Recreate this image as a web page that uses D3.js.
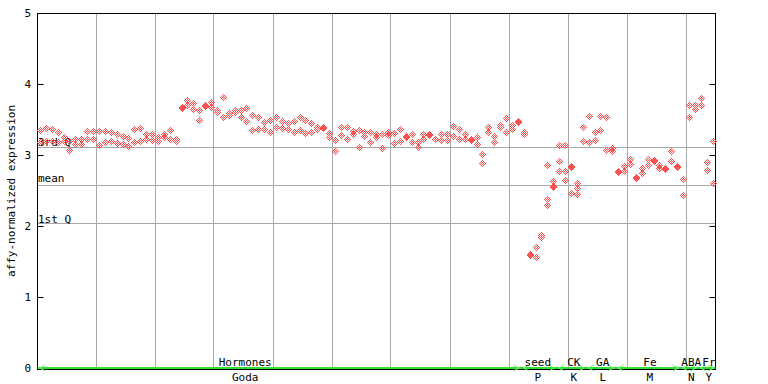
<!DOCTYPE html>
<html>
<head>
<meta charset="utf-8">
<script src="https://cdn.jsdelivr.net/npm/d3@7/dist/d3.min.js"></script>
<style>
    body { margin: 0; background: #fff; }
    text { font-family: "DejaVu Sans Mono", "Liberation Mono", monospace; font-size: 11px; fill: #000; }
</style>
</head>
<body>
<svg width="768" height="384"></svg>
<script>
'use strict';

// replicate values per sample
const sampleValues = [
    [3.35, 3.18], [3.38, 3.2], [3.37, 3.2], [3.33, 3.18], [3.25, 3.2], [3.2, 3.07], [3.22, 3.16], [3.22, 3.16], [3.34, 3.22], [3.34, 3.22],
    [3.34, 3.14], [3.34, 3.18], [3.33, 3.2], [3.3, 3.17], [3.27, 3.16], [3.24, 3.13], [3.37, 3.18], [3.38, 3.2], [3.29, 3.22], [3.29, 3.21],
    [3.26, 3.2], [3.29, 3.26], [3.35, 3.22], [3.22, 3.2], [3.68, 3.66], [3.77, 3.7], [3.73, 3.65], [3.64, 3.49], [3.71, 3.695], [3.74, 3.68],
    [3.64, 3.61], [3.82, 3.54], [3.59, 3.57], [3.64, 3.61], [3.63, 3.54], [3.66, 3.48], [3.57, 3.35], [3.54, 3.37], [3.46, 3.37], [3.49, 3.32],
    [3.53, 3.4], [3.48, 3.38], [3.45, 3.36], [3.48, 3.33], [3.53, 3.35], [3.5, 3.31], [3.45, 3.32], [3.4, 3.37], [3.4, 3.385], [3.31, 3.26],
    [3.21, 3.05], [3.4, 3.28], [3.39, 3.22], [3.34, 3.3], [3.35, 3.11], [3.33, 3.27], [3.33, 3.19], [3.3, 3.25], [3.3, 3.1], [3.33, 3.28],
    [3.31, 3.17], [3.37, 3.2], [3.27, 3.255], [3.3, 3.19], [3.19, 3.11], [3.3, 3.22], [3.3, 3.285], [3.23, 3.22], [3.3, 3.21], [3.3, 3.21],
    [3.41, 3.27], [3.36, 3.22], [3.3, 3.22], [3.23, 3.215], [3.25, 3.15], [3.01, 2.89], [3.4, 3.33], [3.27, 3.19], [3.42, 3.39], [3.52, 3.33],
    [3.42, 3.36], [3.48, 3.465], [3.32, 3.29], [1.6, 1.585], [1.7, 1.56], [1.88, 1.85], [2.86, 2.38, 2.29], [2.64, 2.57, 2.555], [3.14, 2.92, 2.77], [3.14, 2.78, 2.65],
    [2.84, 2.825, 2.46], [2.61, 2.53, 2.45], [3.39, 3.2], [3.55, 3.18], [3.32, 3.21], [3.55, 3.35], [3.54, 3.07], [3.1, 3.05], [2.77, 2.755], [2.85, 2.77],
    [2.95, 2.87], [2.69, 2.675], [2.81, 2.75], [2.95, 2.86], [2.93, 2.915], [2.86, 2.82], [2.82, 2.805], [3.05, 2.92], [2.85, 2.835], [2.66, 2.43],
    [3.7, 3.54], [3.71, 3.65], [3.8, 3.7], [2.9, 2.79], [3.2, 2.6]
];

const yTicks = [0, 1, 2, 3, 4, 5];
const quartileNames = ["3rd Q", "mean", "1st Q"];
const quartileValues = [3.11, 2.58, 2.04];

const groupTop = ["Hormones", "seed", "CK", "GA", "Fe", "ABA", "Fr"];
const groupBottom = ["Goda", "P", "K", "L", "M", "N", "Y"];
const groupStart = [0, 82, 88, 93, 98, 109, 112];
const groupEnd = [82, 88, 93, 98, 109, 112, 115];
const groupLabelAt = [35.2, 84.8, 90.9, 95.8, 103.8, 110.8, 113.8];

let svg = d3.select("svg");
let plotLeft = 37.5, plotRight = 716, plotTop = 13.5, plotBottom = 368.5;

let x = d3.scaleLinear().domain([0, sampleValues.length]).range([plotLeft, plotRight]);
let y = d3.scaleLinear().domain([0, 5]).range([plotBottom, plotTop]);

function px(v) {
    return Math.floor(v) + 0.5;
}

// vertical grid every 10 samples
svg.append("g").selectAll("line")
    .data(d3.range(10, sampleValues.length, 10)).enter()
    .append("line")
    .attr("x1", function (d) { return px(x(d) - 0.5); })
    .attr("x2", function (d) { return px(x(d) - 0.5); })
    .attr("y1", plotTop).attr("y2", plotBottom)
    .attr("stroke", "#a8a8a8");

// quartile lines + labels
let q = svg.append("g").selectAll("g")
    .data(quartileValues).enter()
    .append("g");
q.append("line")
    .attr("x1", plotLeft).attr("x2", 715.5)
    .attr("y1", function (d) { return px(y(d)); })
    .attr("y2", function (d) { return px(y(d)); })
    .attr("stroke", "#a8a8a8");
q.append("text")
    .attr("x", plotLeft + 0.5)
    .attr("y", function (d, i) { return Math.round(y(d)) - [2, 3, 1][i]; })
    .text(function (d, i) { return quartileNames[i]; });

// frame
svg.append("rect")
    .attr("x", plotLeft).attr("y", plotTop)
    .attr("width", 715.5 - plotLeft).attr("height", 369.5 - plotTop)
    .attr("fill", "none").attr("stroke", "#000");

// ticks, left and right, pointing inward
let tk = svg.append("g").selectAll("g")
    .data(yTicks).enter().append("g")
    .attr("transform", function (d) { return "translate(0," + px(y(d)) + ")"; });
tk.append("line").attr("x1", plotLeft).attr("x2", plotLeft + 6).attr("stroke", "#000");
tk.append("line").attr("x1", 715.5).attr("x2", 709.5).attr("stroke", "#000");
tk.append("text")
    .attr("x", 31).attr("dy", "0.35em")
    .attr("text-anchor", "end")
    .text(function (d) { return d; });

svg.append("text")
    .attr("transform", "translate(15,191) rotate(-90)")
    .attr("text-anchor", "middle")
    .text("affy-normalized expression");

// points: checkered diamonds, 7px across
let offsets = [];
for (let dx = -3; dx <= 3; dx++) {
    for (let dy = -3; dy <= 3; dy++) {
        if (Math.abs(dx) + Math.abs(dy) <= 3 && (Math.abs(dx + dy) % 2) === 1) offsets.push([dx, dy]);
    }
}

let points = [];
sampleValues.forEach(function (reps, i) {
    reps.forEach(function (v) {
        points.push({i: i, v: v});
    });
});

svg.append("g").attr("fill", "#ff5050").attr("shape-rendering", "crispEdges")
    .selectAll("g")
    .data(points).enter()
    .append("g")
    .attr("transform", function (d) {
        return "translate(" + Math.floor(x(d.i + 0.5)) + "," + Math.floor(y(d.v)) + ")";
    })
    .each(function () {
        d3.select(this).selectAll("rect")
            .data(offsets).enter()
            .append("rect")
            .attr("x", function (o) { return o[0]; })
            .attr("y", function (o) { return o[1]; })
            .attr("width", 1).attr("height", 1);
    });

// group bar along the bottom
svg.append("line")
    .attr("x1", plotLeft).attr("x2", 715.5)
    .attr("y1", 368).attr("y2", 368)
    .attr("stroke", "#33dd33").attr("stroke-width", 2);

let grp = svg.append("g").selectAll("g")
    .data(groupTop).enter().append("g");

grp.append("path")
    .attr("d", function (d, i) {
        let s = x(groupStart[i]) + 2, e = x(groupEnd[i]) - 2;
        return "M" + (s + 6) + ",365 L" + s + ",368 L" + (s + 6) + ",371" +
            " M" + (e - 6) + ",365 L" + e + ",368 L" + (e - 6) + ",371";
    })
    .attr("fill", "none").attr("stroke", "#66ff66").attr("stroke-width", 1);

grp.append("text")
    .attr("x", function (d, i) { return x(groupLabelAt[i]); })
    .attr("y", 366)
    .attr("text-anchor", "middle")
    .text(function (d) { return d; });

grp.append("text")
    .attr("x", function (d, i) { return x(groupLabelAt[i]); })
    .attr("y", 381)
    .attr("text-anchor", "middle")
    .text(function (d, i) { return groupBottom[i]; });
</script>
</body>
</html>
